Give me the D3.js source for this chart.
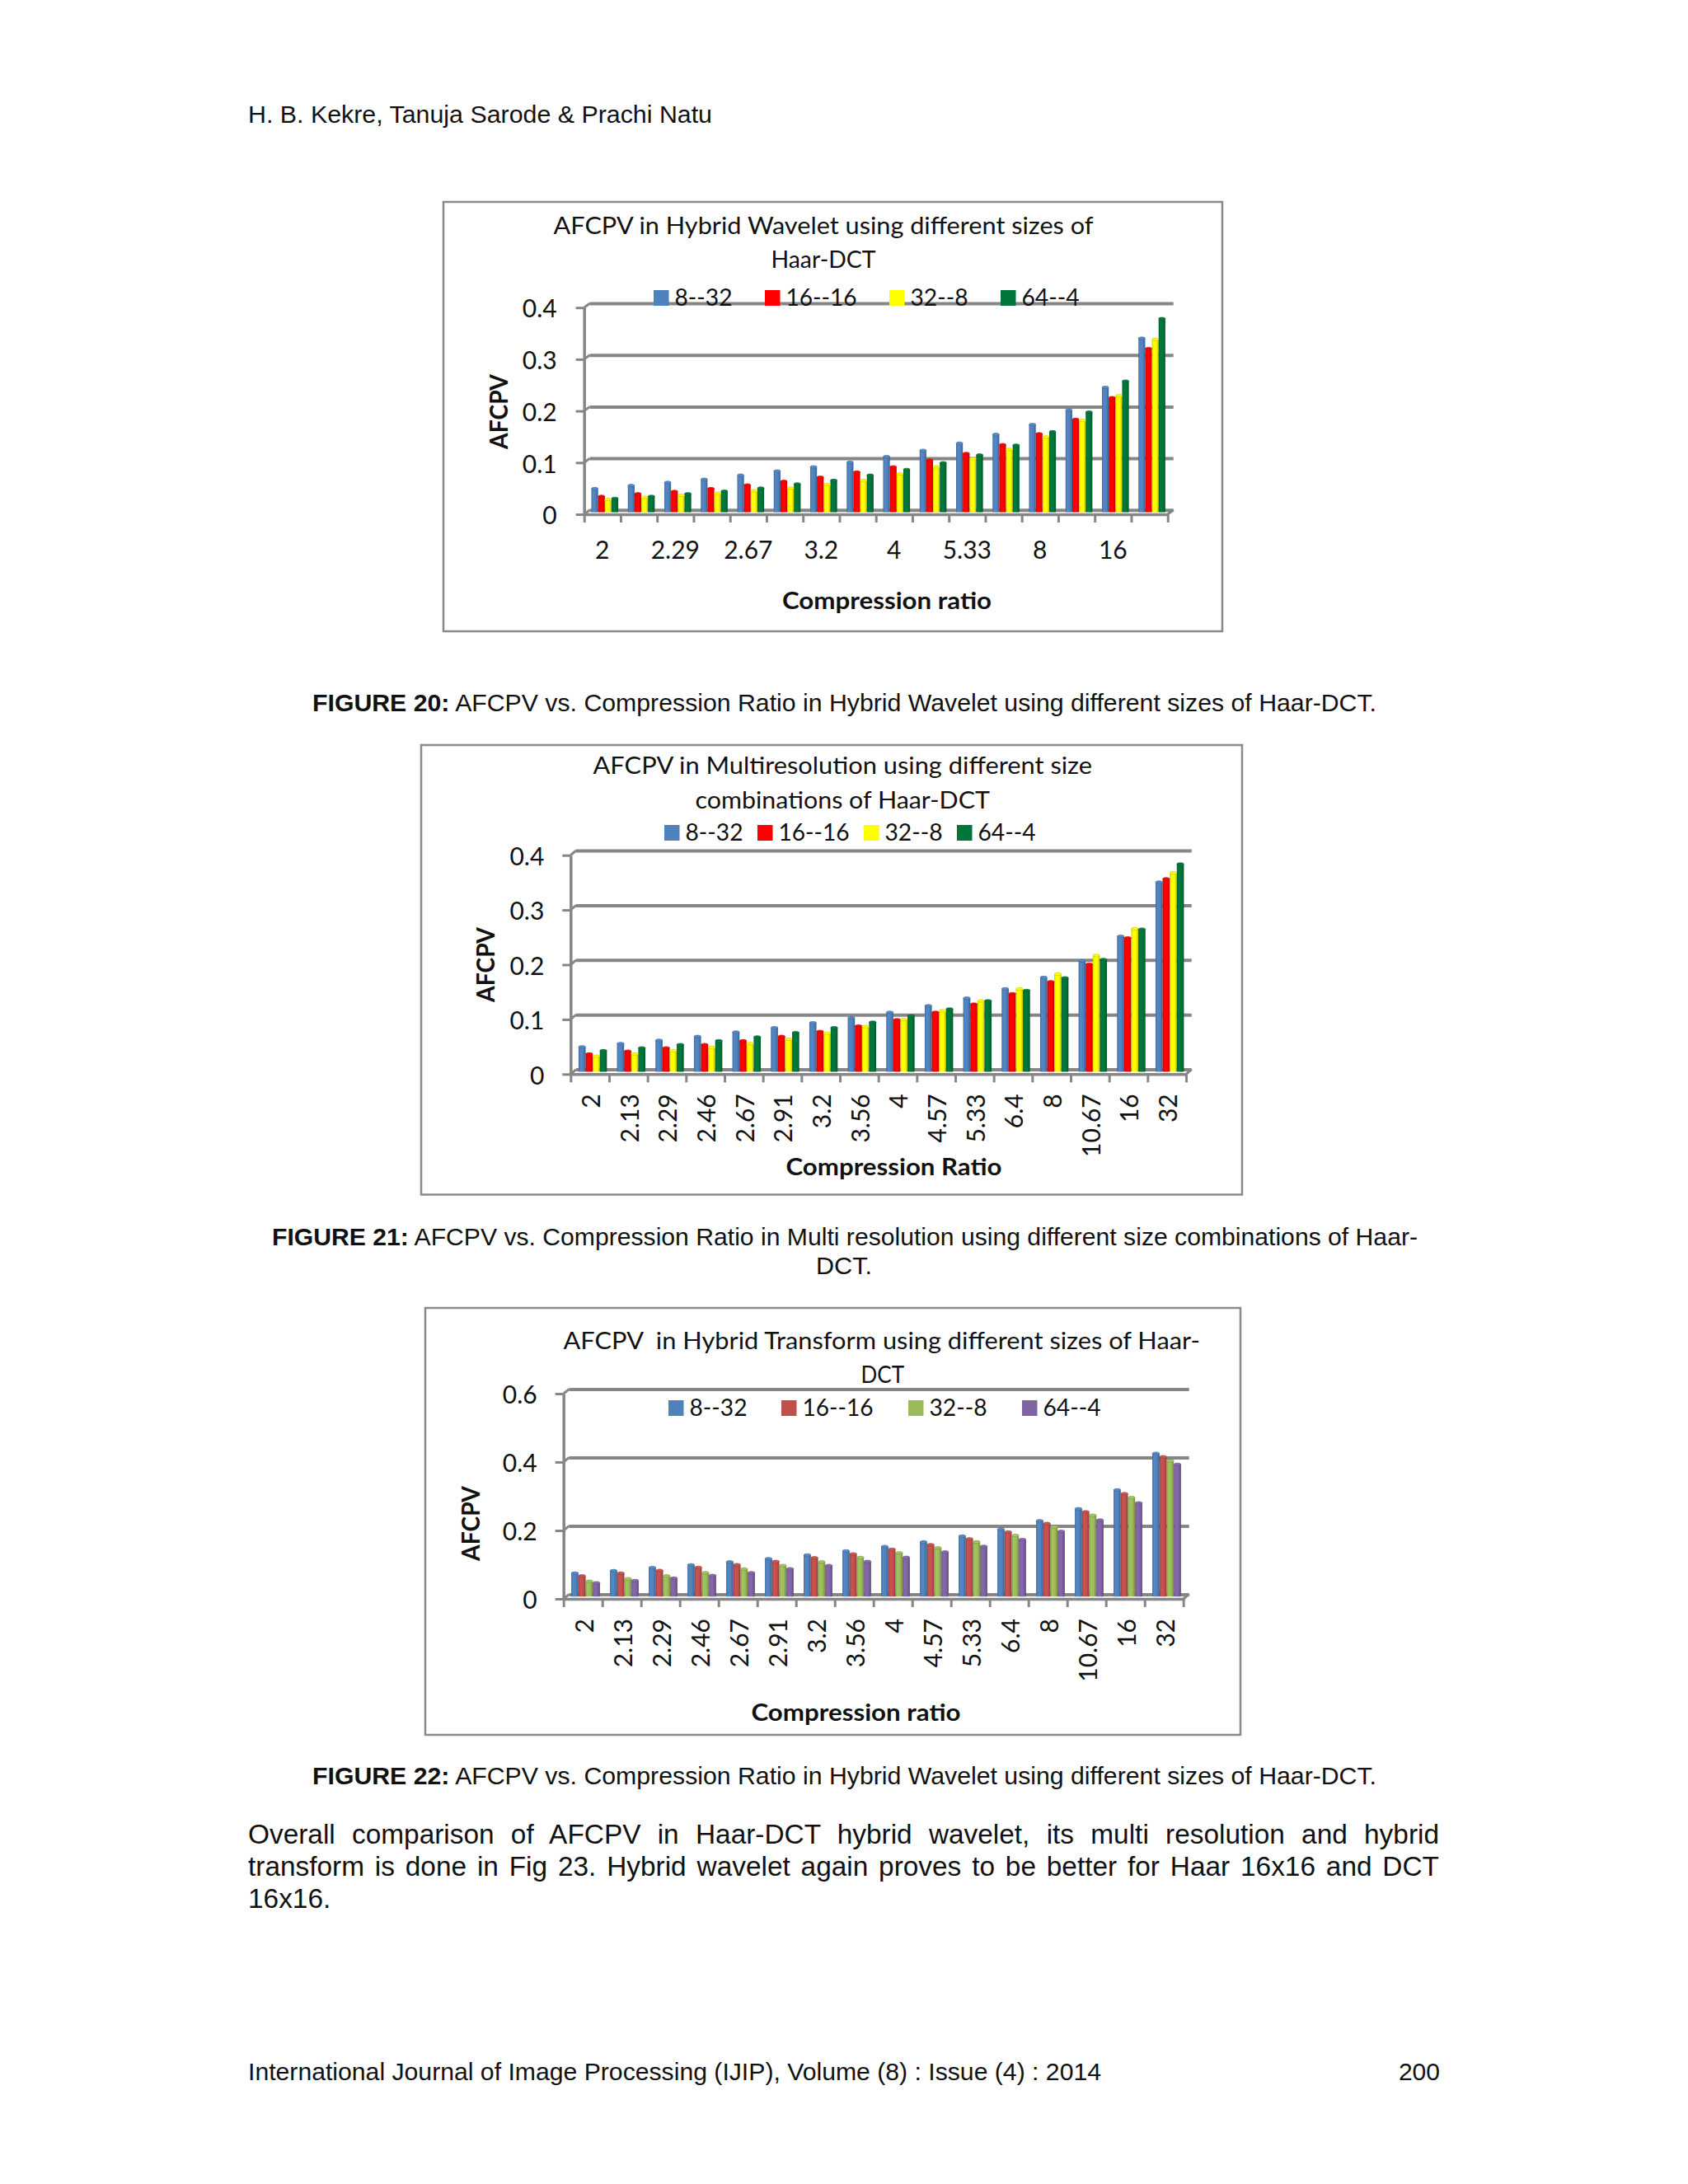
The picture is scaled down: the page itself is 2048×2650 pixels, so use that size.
<!DOCTYPE html>
<html>
<head>
<meta charset="utf-8">
<script src="https://cdn.jsdelivr.net/npm/d3@7"></script>
<style>
  html, body { margin: 0; padding: 0; background: #fff; }
  text { fill: #111; white-space: pre; }
  .page { font-family: "Liberation Sans", Arial, sans-serif; }
  .chart text { font-family: Lato, sans-serif; font-size: 28px; }
  .chart .tick text { font-size: 30px; }
  .chart .bold { font-weight: 700; }
  .chart .ytitle { font-size: 30px; }
</style>
</head>
<body>
<div id="page"></div>
<script>
// categories and series
var categories = ["2", "2.13", "2.29", "2.46", "2.67", "2.91", "3.2", "3.56", "4", "4.57", "5.33", "6.4", "8", "10.67", "16", "32"];
var seriesNames = ["8--32", "16--16", "32--8", "64--4"];

var colorsBright = ["#4f81bd", "#ff0000", "#ffff00", "#00743a"];
var colorsOffice = ["#4f81bd", "#c0504d", "#9bbb59", "#8064a2"];

// figure 20
var wavelet8 =  [.047, .053, .059, .065, .073, .081, .089, .098, .109, .121, .135, .152, .171, .199, .243, .338];
var wavelet16 = [.032, .037, .0415, .047, .054, .061, .069, .079, .089, .102, .115, .132, .153, .181, .223, .318];
var wavelet32 = [.026, .030, .034, .038, .043, .048, .055, .063, .0755, .089, .105, .123, .147, .179, .227, .336];
var wavelet64 = [.028, .032, .037, .042, .048, .056, .063, .073, .084, .097, .112, .131, .157, .195, .255, .376];

// figure 21
var multi8 =  [.047, .053, .059, .066, .074, .082, .091, .100, .110, .122, .136, .153, .174, .204, .249, .348];
var multi16 = [.034, .039, .045, .051, .058, .066, .075, .085, .0965, .110, .125, .144, .166, .198, .246, .354];
var multi32 = [.030, .034, .040, .046, .053, .061, .072, .084, .097, .113, .131, .153, .180, .214, .263, .365];
var multi64 = [.040, .045, .051, .058, .065, .073, .082, .092, .1035, .116, .131, .150, .173, .2065, .262, .381];

// figure 22
var transform8 =  [.0707, .078, .087, .095, .1036, .113, .1237, .1357, .1486, .162, .179, .199, .224, .259, .314, .421];
var transform16 = [.0627, .0707, .0787, .0875, .0956, .105, .1157, .127, .1406, .154, .171, .191, .216, .25, .303, .411];
var transform32 = [.047, .0546, .0627, .072, .0827, .093, .1036, .1165, .130, .1446, .162, .181, .206, .240, .292, .399];
var transform64 = [.0426, .049, .056, .064, .072, .0835, .093, .105, .117, .1325, .149, .169, .193, .226, .276, .389];

var wavelet = [wavelet8, wavelet16, wavelet32, wavelet64];
var multi = [multi8, multi16, multi32, multi64];
var transform = [transform8, transform16, transform32, transform64];

var svg = d3.select("#page").append("svg")
  .attr("width", 2048)
  .attr("height", 2650)
  .style("display", "block");

var defs = svg.append("defs");

// squeeze a text to the width it has in the picture
function fit(sel, w) {
  return sel.attr("textLength", w).attr("lengthAdjust", "spacingAndGlyphs");
}

// horizontal shading so the bars look like the cylinders of the original
function gradientFor(color) {
  var id = "cyl" + color.slice(1);
  if (defs.select("#" + id).empty()) {
    var g = defs.append("linearGradient").attr("id", id);
    g.append("stop").attr("offset", "0%").attr("stop-color", d3.color(color).darker(0.7));
    g.append("stop").attr("offset", "22%").attr("stop-color", d3.color(color).brighter(0.15));
    g.append("stop").attr("offset", "65%").attr("stop-color", color);
    g.append("stop").attr("offset", "100%").attr("stop-color", d3.color(color).darker(0.8));
  }
  return "url(#" + id + ")";
}

function drawChart(o) {
  var g = svg.append("g").attr("class", "chart");

  g.append("rect")
    .attr("x", o.frame[0]).attr("y", o.frame[1])
    .attr("width", o.frame[2] - o.frame[0]).attr("height", o.frame[3] - o.frame[1])
    .attr("fill", "#fff").attr("stroke", "#8a8a8a").attr("stroke-width", 2.5);

  var yTop = o.yZero - o.yMax * o.yPerUnit;
  var y = d3.scaleLinear().domain([0, o.yMax]).range([o.yZero, yTop]);
  var edge = d3.scaleLinear().domain([0, 16]).range([o.x0, o.x0 + 16 * o.step]);
  var x = d3.scaleBand().domain(categories).range([o.x0, o.x0 + 16 * o.step]);
  var inner = d3.scaleBand().domain(d3.range(4)).range([0, 4 * o.barW]);

  // back wall lines
  g.append("g")
    .attr("transform", "translate(" + (o.x0 + o.depthX) + "," + (-o.depthY) + ")")
    .call(d3.axisLeft(y).tickValues(o.yTicks).tickSize(-16 * o.step).tickFormat(""))
    .call(function(a) {
      a.select(".domain").remove();
      a.selectAll("line").attr("stroke", "#868686").attr("stroke-width", 4);
    });

  // short slanted joins between the axis and the wall
  g.append("g").selectAll("line")
    .data(o.yTicks)
    .enter().append("line")
    .attr("x1", o.x0).attr("y1", function(d) { return y(d); })
    .attr("x2", o.x0 + o.depthX).attr("y2", function(d) { return y(d) - o.depthY; })
    .attr("stroke", "#868686").attr("stroke-width", 3);
  g.append("line")
    .attr("x1", edge(16)).attr("y1", y(0))
    .attr("x2", edge(16) + o.depthX).attr("y2", y(0) - o.depthY)
    .attr("stroke", "#868686").attr("stroke-width", 3);

  // bars
  var groups = g.append("g").selectAll("g")
    .data(categories)
    .enter().append("g")
    .attr("transform", function(d) {
      return "translate(" + (x(d) + (o.step - 4 * o.barW) / 2 + o.barShift) + "," + (-o.depthY / 2) + ")";
    });

  groups.each(function(cat, i) {
    var rows = o.values.map(function(s, k) { return { k: k, v: s[i] }; });
    var cell = d3.select(this);
    cell.selectAll("rect")
      .data(rows)
      .enter().append("rect")
      .attr("x", function(d) { return inner(d.k); })
      .attr("y", function(d) { return y(d.v) + 1; })
      .attr("width", inner.bandwidth())
      .attr("height", function(d) { return y(0) - y(d.v) - 1; })
      .attr("rx", 1)
      .attr("fill", function(d) { return gradientFor(o.colors[d.k]); });
    cell.selectAll("ellipse")
      .data(rows)
      .enter().append("ellipse")
      .attr("cx", function(d) { return inner(d.k) + inner.bandwidth() / 2; })
      .attr("cy", function(d) { return y(d.v) + 1; })
      .attr("rx", inner.bandwidth() / 2)
      .attr("ry", 1.6)
      .attr("fill", function(d) { return d3.color(o.colors[d.k]).brighter(0.2); })
      .attr("stroke", function(d) { return d3.color(o.colors[d.k]).darker(0.6); })
      .attr("stroke-width", 0.7);
  });

  // y axis
  g.append("g")
    .attr("transform", "translate(" + o.x0 + ",0)")
    .call(d3.axisLeft(y).tickValues(o.yTicks).tickSize(10).tickSizeOuter(0).tickPadding(o.yPad).tickFormat(d3.format("~g")))
    .call(function(a) {
      a.select(".domain").attr("stroke", "#868686").attr("stroke-width", 3.5);
      a.selectAll("line").attr("stroke", "#868686").attr("stroke-width", 3);
      a.selectAll("text").attr("dy", ".39em");
    });

  // x axis: the marks sit between the categories, the labels in the middle
  g.append("g")
    .attr("transform", "translate(0," + y(0) + ")")
    .call(d3.axisBottom(edge).tickValues(d3.range(17)).tickSize(10).tickSizeOuter(0).tickFormat(""))
    .call(function(a) {
      a.select(".domain").attr("stroke", "#868686").attr("stroke-width", 3.5);
      a.selectAll("line").attr("stroke", "#868686").attr("stroke-width", 3);
    });

  var labels = g.append("g")
    .attr("transform", "translate(0," + y(0) + ")")
    .call(d3.axisBottom(x).tickValues(o.xTicks).tickSize(0))
    .call(function(a) { a.select(".domain").remove(); });

  if (o.rotate) {
    labels.selectAll("text")
      .attr("transform", "rotate(-90)")
      .attr("text-anchor", "end")
      .attr("x", -o.labelGap)
      .attr("y", 1.5)
      .attr("dy", ".36em");
  } else {
    labels.selectAll("text")
      .attr("y", o.labelGap)
      .attr("dy", 0);
  }

  // titles
  o.title.forEach(function(t) {
    fit(g.append("text")
      .attr("x", t[1]).attr("y", t[3])
      .text(t[0]), t[2] - t[1]);
  });

  fit(g.append("text")
    .attr("class", "bold ytitle")
    .attr("transform", "translate(" + o.yTitle[0] + "," + o.yTitle[1] + ") rotate(-90)")
    .text("AFCPV"), 91);

  fit(g.append("text")
    .attr("class", "bold")
    .attr("x", o.xTitle[1]).attr("y", o.xTitle[3])
    .text(o.xTitle[0]), o.xTitle[2] - o.xTitle[1]);

  // legend
  seriesNames.forEach(function(name, k) {
    g.append("rect")
      .attr("x", o.legendX[k]).attr("y", o.legendY - 19)
      .attr("width", 18.5).attr("height", 19)
      .attr("fill", o.colors[k]);
    fit(g.append("text")
      .attr("x", o.legendX[k] + 25.5).attr("y", o.legendY)
      .text(name), k == 1 ? 86 : 70);
  });
}

var everyOther = categories.filter(function(d, i) { return i % 2 == 0; });

drawChart({
  frame: [538, 245, 1483, 766],
  values: wavelet, colors: colorsBright,
  x0: 708.7, step: 44.25, barW: 8.15, barShift: 3,
  yZero: 624, yPerUnit: 627, yMax: 0.4, yTicks: [0, .1, .2, .3, .4],
  depthX: 7, depthY: 5.2, yPad: 23, labelGap: 54, rotate: false, xTicks: everyOther,
  title: [["AFCPV in Hybrid Wavelet using different sizes of", 671.5, 1326.5, 284], ["Haar-DCT", 935.5, 1062.5, 325]],
  yTitle: [616, 545],
  xTitle: ["Compression ratio", 949, 1203, 739],
  legendX: [793, 928, 1079, 1214], legendY: 371
});

drawChart({
  frame: [511, 904, 1507, 1449.5],
  values: multi, colors: colorsBright,
  x0: 692.3, step: 46.67, barW: 8.6, barShift: 3.5,
  yZero: 1303.3, yPerUnit: 664, yMax: 0.4, yTicks: [0, .1, .2, .3, .4],
  depthX: 6.7, depthY: 5.7, yPad: 22, labelGap: 24, rotate: true, xTicks: categories,
  title: [["AFCPV in Multiresolution using different size", 719.5, 1325, 939], ["combinations of Haar-DCT", 843.5, 1201, 981]],
  yTitle: [600, 1216],
  xTitle: ["Compression Ratio", 953.5, 1215.5, 1426],
  legendX: [806, 919, 1048, 1161], legendY: 1020
});

drawChart({
  frame: [516, 1587, 1505, 2105],
  values: transform, colors: colorsOffice,
  x0: 683.7, step: 47, barW: 8.7, barShift: 3.3,
  yZero: 1940, yPerUnit: 415, yMax: 0.6, yTicks: [0, .2, .4, .6],
  depthX: 7, depthY: 5.6, yPad: 22, labelGap: 24, rotate: true, xTicks: categories,
  title: [["AFCPV  in Hybrid Transform using different sizes of Haar-", 683.5, 1456, 1637], ["DCT", 1044.5, 1097, 1678]],
  yTitle: [582, 1894],
  xTitle: ["Compression ratio", 911.5, 1165.5, 2088],
  legendX: [811, 948, 1102, 1240], legendY: 1718
});

// the page text round the charts
var page = svg.append("g").attr("class", "page");

function line(str, x, y, size, w) {
  var t = page.append("text").attr("x", x).attr("y", y).style("font-size", size + "px").text(str);
  if (w) fit(t, w);
  return t;
}

function caption(label, str, x, y, w) {
  var t = page.append("text").attr("x", x).attr("y", y).style("font-size", "29.5px");
  t.append("tspan").style("font-weight", "700").text(label);
  t.append("tspan").text(" " + str);
  fit(t, w);
}

function justified(str, x, y, size, w) {
  var t = line(str, x, y, size);
  var gaps = str.split(" ").length - 1;
  var extra = (w - t.node().getComputedTextLength()) / gaps;
  t.style("word-spacing", extra + "px");
}

line("H. B. Kekre, Tanuja Sarode & Prachi Natu", 301, 149, 30, 563);

caption("FIGURE 20:", "AFCPV vs. Compression Ratio in Hybrid Wavelet using different sizes of Haar-DCT.", 379, 863, 1291);
caption("FIGURE 21:", "AFCPV vs. Compression Ratio in Multi resolution using different size combinations of Haar-", 330, 1511, 1390);
line("DCT.", 990, 1546, 29.5, 68);
caption("FIGURE 22:", "AFCPV vs. Compression Ratio in Hybrid Wavelet using different sizes of Haar-DCT.", 379, 2165, 1291);

justified("Overall comparison of AFCPV in Haar-DCT hybrid wavelet, its multi resolution and hybrid", 301, 2237, 33.4, 1445);
justified("transform is done in Fig 23. Hybrid wavelet again proves to be better for Haar 16x16 and DCT", 301, 2276, 33.4, 1445);
line("16x16.", 301, 2315, 33.4);

line("International Journal of Image Processing (IJIP), Volume (8) : Issue (4) : 2014", 301, 2524, 30, 1035);
line("200", 1747, 2524, 30).attr("text-anchor", "end");
</script>
</body>
</html>
